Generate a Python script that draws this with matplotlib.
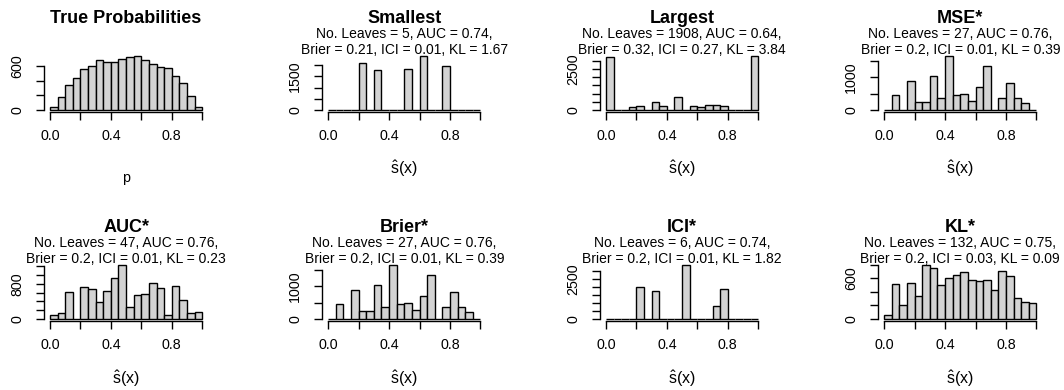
import numpy as np
import matplotlib.pyplot as plt

plt.switch_backend("Agg")
plt.rcParams["font.family"] = ["Liberation Sans", "DejaVu Sans"]
plt.rcParams["mathtext.fontset"] = "custom"
plt.rcParams["mathtext.rm"] = "Liberation Sans"

# --- bin counts (20 bins of width 0.05 on [0, 1]) ---
edges = np.linspace(0, 1, 21)

true_p = [46, 185, 346, 443, 568, 605, 683, 655, 660, 700,
          724, 738, 683, 628, 586, 572, 462, 374, 194, 46]
smallest = [0, 0, 0, 0, 2090, 0, 1790, 0, 0, 0,
            1835, 0, 2390, 0, 0, 1970, 0, 0, 0, 0]
largest = [3225, 20, 20, 165, 245, 0, 460, 245, 0, 816,
           0, 225, 165, 285, 285, 225, 20, 20, 20, 3265]
mse = [0, 460, 0, 878, 235, 235, 1040, 357, 1630, 460,
       500, 285, 704, 1326, 0, 357, 836, 377, 204, 0]
auc = [100, 132, 620, 0, 720, 690, 395, 640, 937, 1223,
       271, 550, 565, 820, 705, 93, 760, 433, 140, 170]
brier = [0, 460, 0, 878, 235, 235, 1040, 357, 1630, 460,
         500, 285, 704, 1326, 0, 357, 836, 377, 204, 0]
ici = [0, 0, 0, 0, 2040, 0, 1750, 0, 0, 0,
       3370, 0, 0, 0, 790, 1914, 0, 0, 0, 0]
kl = [60, 510, 205, 530, 340, 790, 750, 500, 600, 650,
      690, 575, 565, 580, 425, 710, 635, 305, 245, 230]

titles = ["True Probabilities", "Smallest", "Largest", "MSE*",
          "AUC*", "Brier*", "ICI*", "KL*"]
subtitles = [
    None,
    ("No. Leaves = 5, AUC = 0.74,", "Brier = 0.21, ICI = 0.01, KL = 1.67"),
    ("No. Leaves = 1908, AUC = 0.64,", "Brier = 0.32, ICI = 0.27, KL = 3.84"),
    ("No. Leaves = 27, AUC = 0.76,", "Brier = 0.2, ICI = 0.01, KL = 0.39"),
    ("No. Leaves = 47, AUC = 0.76,", "Brier = 0.2, ICI = 0.01, KL = 0.23"),
    ("No. Leaves = 27, AUC = 0.76,", "Brier = 0.2, ICI = 0.01, KL = 0.39"),
    ("No. Leaves = 6, AUC = 0.74,", "Brier = 0.2, ICI = 0.01, KL = 1.82"),
    ("No. Leaves = 132, AUC = 0.75,", "Brier = 0.2, ICI = 0.03, KL = 0.09"),
]
series = [true_p, smallest, largest, mse, auc, brier, ici, kl]
shat = r"$\hat{\mathrm{s}}\mathrm{(x)}$"
xlabels = ["p"] + [shat] * 7
# y ticks (step, last tick) and which ones carry a label
ytick_step = [200, 500, 500, 500, 200, 500, 500, 200]
ytick_top = [600, 2000, 3000, 1500, 1200, 1500, 3000, 800]
ytick_labelled = [(0, 600), (0, 1500), (0, 2500), (0, 1000),
                  (0, 800), (0, 1000), (0, 2500), (0, 600)]

# --- layout in pixels (R mfrow 2x4 look) ---
W, H = 1064, 390
lefts = [44, 322.2, 600, 878.2]
plot_w = 164.2
plot_h = 58
bottoms = [112.2, 321.2]
title_y = [23, 231.5]
sub1_y = [38.3, 246.8]
sub2_y = [54.3, 262.8]
xlab_y = [174, 384]

fig = plt.figure(figsize=(W / 100, H / 100), dpi=100)

for i, counts in enumerate(series):
    r, c = divmod(i, 4)
    ax = fig.add_axes([lefts[c] / W, 1 - bottoms[r] / H, plot_w / W, plot_h / H])
    ax.bar(edges[:-1], counts, width=0.05, align="edge",
           color="#D3D3D3", edgecolor="black", linewidth=1.0)
    ymax = max(counts)
    ax.set_xlim(-0.04, 1.04)
    ax.set_ylim(-0.04 * ymax, 1.04 * ymax)
    ax.patch.set_visible(False)

    for s in ("top", "right"):
        ax.spines[s].set_visible(False)
    ax.spines["left"].set_bounds(0, ytick_top[i])
    ax.spines["bottom"].set_bounds(0, 1)
    for s in ("left", "bottom"):
        ax.spines[s].set_linewidth(1.0)

    xt = np.round(np.arange(0, 1.01, 0.2), 1)
    ax.set_xticks(xt, [f"{v:.1f}" if v in (0.0, 0.4, 0.8) else "" for v in xt])
    yt = np.arange(0, ytick_top[i] + 1, ytick_step[i])
    ax.set_yticks(yt, [str(v) if v in ytick_labelled[i] else "" for v in yt],
                  rotation=90, va="center")
    ax.tick_params(axis="x", length=5.8, width=1.0, pad=6.3, labelsize=10.3)
    ax.tick_params(axis="y", length=5.8, width=1.0, pad=8.6, labelsize=10.3)

    cx = (lefts[c] + plot_w / 2) / W
    fig.text(cx, 1 - title_y[r] / H, titles[i], ha="center", va="baseline",
             fontsize=13, fontweight="bold")
    if subtitles[i]:
        fig.text(cx, 1 - sub1_y[r] / H, subtitles[i][0], ha="center",
                 va="baseline", fontsize=10)
        fig.text(cx, 1 - sub2_y[r] / H, subtitles[i][1], ha="center",
                 va="baseline", fontsize=10)
    ly = 181.7 if i == 0 else xlab_y[r]
    fig.text(cx, 1 - ly / H, xlabels[i], ha="center", va="baseline",
             fontsize=10.3 if i == 0 else 11.5)

fig.savefig("out.png", dpi=100)
